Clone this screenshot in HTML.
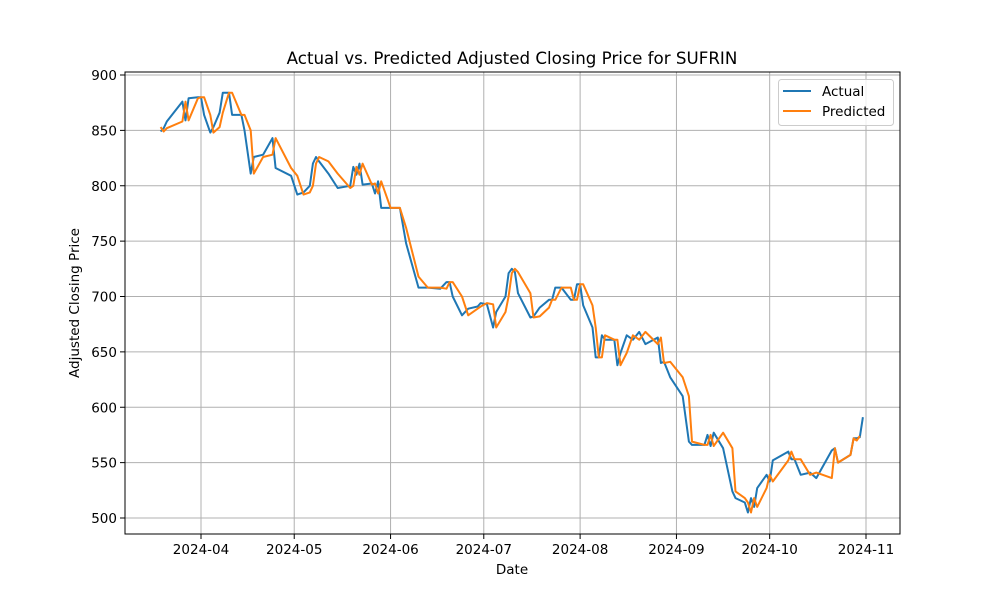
<!DOCTYPE html>
<html><head><meta charset="utf-8"><style>
body{margin:0;background:#fff}
svg{display:block;font-family:"DejaVu Sans","Liberation Sans",sans-serif}
</style></head><body>
<svg id="chart" width="1000" height="600" viewBox="0 0 1000 600">
<rect width="1000" height="600" fill="#fff"/>
<text x="512" y="64" font-size="16.7" text-anchor="middle">Actual vs. Predicted Adjusted Closing Price for SUFRIN</text>
<g id="grid"></g><g id="series"></g><g id="axes"></g>
<text x="512" y="574" font-size="13.5" text-anchor="middle">Date</text>
<text x="0" y="0" font-size="13.5" text-anchor="middle" transform="translate(79,303) rotate(-90)">Adjusted Closing Price</text>
<g>
<rect x="778.5" y="79.5" width="115" height="46" rx="3" fill="#fff" fill-opacity="0.8" stroke="#ccc"/>
<line x1="783" y1="91" x2="811" y2="91" stroke="#1f77b4" stroke-width="2"/>
<text x="822" y="96" font-size="13.5">Actual</text>
<line x1="783" y1="111" x2="811" y2="111" stroke="#ff7f0e" stroke-width="2"/>
<text x="822" y="116" font-size="13.5">Predicted</text>
</g>
</svg>
<script>
const dates=["2024-03-19","2024-03-20","2024-03-21","2024-03-26","2024-03-27","2024-03-28","2024-03-31","2024-04-01","2024-04-02","2024-04-04","2024-04-05","2024-04-07","2024-04-08","2024-04-10","2024-04-11","2024-04-14","2024-04-15","2024-04-17","2024-04-18","2024-04-21","2024-04-24","2024-04-25","2024-04-30","2024-05-02","2024-05-04","2024-05-06","2024-05-07","2024-05-08","2024-05-09","2024-05-12","2024-05-15","2024-05-19","2024-05-20","2024-05-21","2024-05-22","2024-05-23","2024-05-26","2024-05-27","2024-05-28","2024-05-29","2024-06-01","2024-06-04","2024-06-06","2024-06-10","2024-06-13","2024-06-17","2024-06-19","2024-06-20","2024-06-21","2024-06-24","2024-06-26","2024-06-29","2024-06-30","2024-07-02","2024-07-04","2024-07-05","2024-07-08","2024-07-09","2024-07-10","2024-07-11","2024-07-12","2024-07-16","2024-07-17","2024-07-19","2024-07-22","2024-07-23","2024-07-24","2024-07-26","2024-07-29","2024-07-30","2024-07-31","2024-08-01","2024-08-02","2024-08-05","2024-08-06","2024-08-07","2024-08-08","2024-08-09","2024-08-12","2024-08-13","2024-08-14","2024-08-16","2024-08-18","2024-08-20","2024-08-22","2024-08-26","2024-08-27","2024-08-28","2024-08-30","2024-09-03","2024-09-05","2024-09-06","2024-09-10","2024-09-11","2024-09-12","2024-09-13","2024-09-16","2024-09-19","2024-09-20","2024-09-23","2024-09-24","2024-09-25","2024-09-26","2024-09-27","2024-09-30","2024-10-01","2024-10-02","2024-10-07","2024-10-08","2024-10-09","2024-10-11","2024-10-14","2024-10-16","2024-10-21","2024-10-22","2024-10-23","2024-10-27","2024-10-28","2024-10-29","2024-10-30","2024-10-31"];
const actual=[849,852,858,876,859,879,880,880,864,848,853,866,884,884,864,864,850,811,826,828,843,816,809,792,794,800,820,826,822,811,798,800,817,810,820,801,802,793,804,780,780,780,748,708,708,707,713,713,700,683,689,691,694,693,672,686,700,721,725,722,703,681,682,690,697,697,708,708,697,697,711,711,692,672,645,645,665,661,661,638,649,665,661,668,657,663,640,641,627,610,569,566,566,575,565,577,563,524,518,514,505,518,510,527,539,533,552,560,553,553,539,541,536,561,563,550,557,572,572,573,591];
const predicted=[853,849,852,858,876,859,879,880,880,864,848,853,866,884,884,864,864,850,811,826,828,843,816,809,792,794,800,820,826,822,811,798,800,817,810,820,801,802,793,804,780,780,762,718,708,708,707,713,713,700,683,689,691,694,693,672,686,700,721,725,722,703,681,682,690,697,697,708,708,697,697,711,711,692,672,645,645,665,661,661,638,649,665,661,668,657,663,640,641,627,610,569,566,566,575,565,577,563,524,518,514,505,518,510,527,539,533,552,560,553,553,539,541,536,563,550,557,572,570,574];
const yTicks=[500,550,600,650,700,750,800,850,900];
const xTickLabels=["2024-04","2024-05","2024-06","2024-07","2024-08","2024-09","2024-10","2024-11"];
const NS="http://www.w3.org/2000/svg";
const L=125,R=900,T=72,B=534;
const d0=Date.UTC(2024,3,1);
function dayOf(s){const p=s.split("-");return (Date.UTC(+p[0],+p[1]-1,+p[2])-d0)/86400000;}
function xS(s){return 201+dayOf(s)*3.1075;}
function yS(v){return 518-(v-500)*1.1075;}
function mk(tag,attrs,parent){const e=document.createElementNS(NS,tag);for(const k in attrs)e.setAttribute(k,attrs[k]);parent.appendChild(e);return e;}
const grid=document.getElementById("grid"),axes=document.getElementById("axes"),series=document.getElementById("series");
yTicks.forEach(v=>{const y=yS(v);
 const g=mk("line",{x1:L,x2:R,y1:y,y2:y,stroke:"#b0b0b0","stroke-width":1},grid);
 
 
 const t=mk("line",{x1:L-5,x2:L,y1:y,y2:y,stroke:"#000","stroke-width":1},axes);
 
 
 const tx=mk("text",{x:L-8,y:y+5,"font-size":13.5,"text-anchor":"end"},axes);tx.textContent=v;
 
 
});
xTickLabels.forEach(lbl=>{const x=xS(lbl+"-01");
 const g=mk("line",{x1:x,x2:x,y1:T,y2:B,stroke:"#b0b0b0","stroke-width":1},grid);
 
 
 const t=mk("line",{x1:x,x2:x,y1:B,y2:B+5,stroke:"#000","stroke-width":1},axes);
 
 
 const tx=mk("text",{x:x,y:B+20,"font-size":13.5,"text-anchor":"middle"},axes);tx.textContent=lbl;
 
 
});
const frame=mk("rect",{x:L,y:T,width:R-L,height:B-T,fill:"none",stroke:"#000","stroke-width":1},axes);


function pts(vals){return vals.map((v,i)=>xS(dates[i]).toFixed(1)+","+yS(v).toFixed(1)).join(" ");}
const la=mk("polyline",{points:pts(actual),fill:"none",stroke:"#1f77b4","stroke-width":2,"stroke-linejoin":"round"},series);


const lp=mk("polyline",{points:pts(predicted),fill:"none",stroke:"#ff7f0e","stroke-width":2,"stroke-linejoin":"round"},series);


</script>
</body></html>
